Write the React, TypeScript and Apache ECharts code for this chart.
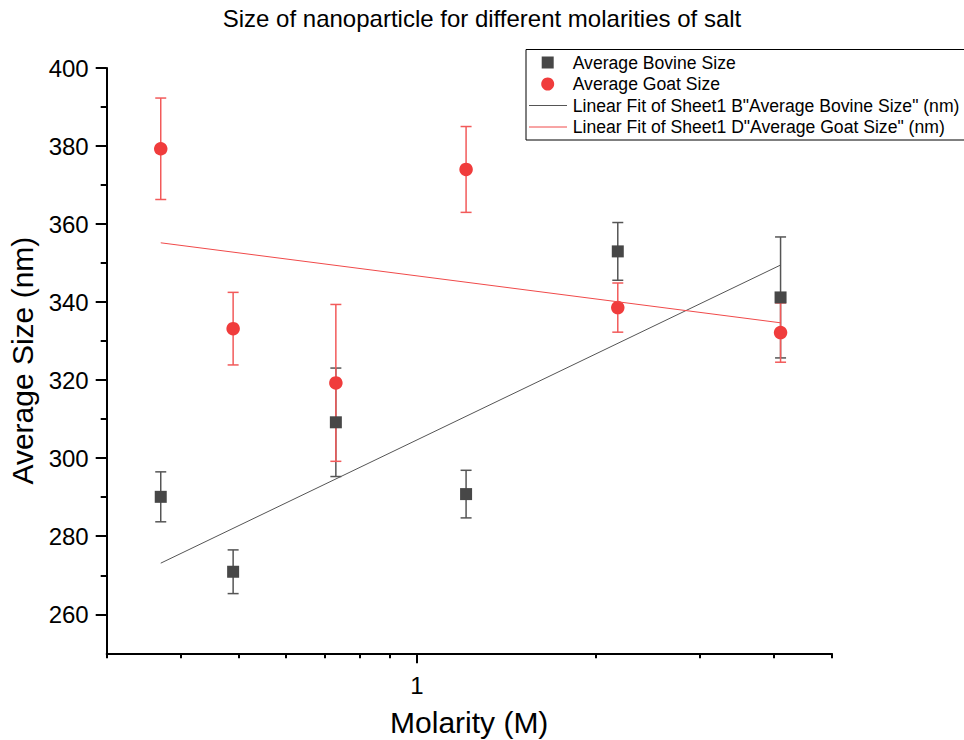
import React, { useEffect, useRef } from "react";
import * as echarts from "echarts";

// ---- data ----
const molarity = [0.37, 0.49, 0.73, 1.21, 2.18, 4.1];
const bovineSize = [290.1, 270.9, 309.2, 290.8, 353.0, 341.2];
const bovineErr = [6.4, 5.6, 13.9, 6.1, 7.4, 15.5];
const goatSize = [379.3, 333.2, 319.3, 374.0, 338.6, 332.2];
const goatErr = [13.0, 9.3, 20.1, 11.0, 6.3, 7.6];

// linear-fit end points (as drawn in the reference)
const fitMolarity = [0.37, 4.1];
const bovineFit = [273.1, 349.5];
const goatFit = [355.2, 334.7];

// axis ticks
const xMajorTicks = [1];
const xMinorTicks = [0.3, 0.4, 0.5, 0.6, 0.7, 0.8, 0.9, 2, 3, 4, 5];
const yMajorTicks = [260, 280, 300, 320, 340, 360, 380, 400];
const yMinorTicks = [270, 290, 310, 330, 350, 370, 390];

const seriesNames = [
  "Average Bovine Size",
  "Average Goat Size",
  'Linear Fit of Sheet1 B"Average Bovine Size" (nm)',
  'Linear Fit of Sheet1 D"Average Goat Size" (nm)',
];

const FONT = "'Liberation Sans', Arial, Helvetica, sans-serif";
const BOVINE = "#474747";
const BOVINE_ERR = "#555555";
const GOAT = "#f03c3c";
const GOAT_ERR = "#f25a5a";

function errorSeries(sizes: number[], errs: number[], color: string) {
  return {
    type: "custom",
    xAxisIndex: 0,
    yAxisIndex: 0,
    silent: true,
    clip: false,
    encode: { x: 0, y: [1, 2] },
    data: molarity.map((m, i) => [m, sizes[i] - errs[i], sizes[i] + errs[i]]),
    renderItem: (params: any, api: any) => {
      const x = api.value(0);
      const top = api.coord([x, api.value(2)]);
      const bot = api.coord([x, api.value(1)]);
      const hw = 5.5;
      const st = { stroke: color, lineWidth: 1.5 };
      return {
        type: "group",
        children: [
          { type: "line", shape: { x1: top[0], y1: top[1], x2: bot[0], y2: bot[1] }, style: st },
          { type: "line", shape: { x1: top[0] - hw, y1: top[1], x2: top[0] + hw, y2: top[1] }, style: st },
          { type: "line", shape: { x1: bot[0] - hw, y1: bot[1], x2: bot[0] + hw, y2: bot[1] }, style: st },
        ],
      };
    },
  };
}

export default function App() {
  const ref = useRef<HTMLDivElement>(null);

  useEffect(() => {
    if (!ref.current) return;
    const chart = echarts.init(ref.current, undefined, { renderer: "svg" });

    const legendX = 526;
    const rowY = [62.5, 84, 105.5, 127];
    const textX = 572.7;
    const legendText = (i: number) => ({
      type: "text",
      x: textX,
      y: rowY[i],
      style: {
        text: seriesNames[i],
        fill: "#000",
        font: `17.6px ${FONT}`,
        textVerticalAlign: "middle",
        verticalAlign: "middle",
      },
      z: 102,
    });

    const option: any = {
      animation: false,
      backgroundColor: "#ffffff",
      textStyle: { fontFamily: FONT },
      title: {
        text: "Size of nanoparticle for different molarities of salt",
        left: "center",
        top: 6,
        padding: 0,
        textStyle: { fontSize: 24, fontWeight: "normal", color: "#000", fontFamily: FONT },
      },
      grid: {
        left: 106.7,
        right: 964 - 831.7,
        top: 68,
        bottom: 740 - 653.3,
        containLabel: false,
        outerBoundsMode: "none",
      },
      xAxis: [
        {
          type: "log",
          logBase: 10,
          min: 0.3,
          max: 5,
          position: "bottom",
          axisLine: { show: true, onZero: false, lineStyle: { color: "#000", width: 2 } },
          axisTick: { show: true, length: 10, customValues: xMajorTicks, lineStyle: { color: "#000", width: 2 } },
          axisLabel: {
            show: true,
            customValues: xMajorTicks,
            fontSize: 24,
            color: "#000",
            margin: 20,
            fontFamily: FONT,
          },
          splitLine: { show: false },
          minorTick: { show: false },
          name: "Molarity (M)",
          nameLocation: "middle",
          nameGap: 54,
          nameTextStyle: { fontSize: 30, color: "#000", fontFamily: FONT },
        },
        {
          type: "log",
          logBase: 10,
          min: 0.3,
          max: 5,
          position: "bottom",
          axisLine: { show: false, onZero: false },
          axisTick: { show: true, length: 5, customValues: xMinorTicks, lineStyle: { color: "#000", width: 2 } },
          axisLabel: { show: false },
          splitLine: { show: false },
        },
      ],
      yAxis: [
        {
          type: "value",
          min: 250,
          max: 400,
          position: "left",
          axisLine: { show: true, onZero: false, lineStyle: { color: "#000", width: 2 } },
          axisTick: { show: true, length: 11, customValues: yMajorTicks, lineStyle: { color: "#000", width: 2 } },
          axisLabel: {
            show: true,
            customValues: yMajorTicks,
            fontSize: 24,
            color: "#000",
            margin: 18,
            fontFamily: FONT,
          },
          splitLine: { show: false },
          name: "Average Size (nm)",
          nameLocation: "middle",
          nameGap: 62,
          nameTextStyle: { fontSize: 30, color: "#000", fontFamily: FONT },
        },
        {
          type: "value",
          min: 250,
          max: 400,
          position: "left",
          axisLine: { show: false, onZero: false },
          axisTick: { show: true, length: 6, customValues: yMinorTicks, lineStyle: { color: "#000", width: 2 } },
          axisLabel: { show: false },
          splitLine: { show: false },
        },
      ],
      series: [
        errorSeries(bovineSize, bovineErr, BOVINE_ERR),
        {
          name: seriesNames[0],
          type: "scatter",
          xAxisIndex: 0,
          yAxisIndex: 0,
          symbol: "rect",
          symbolSize: 12,
          itemStyle: { color: BOVINE, opacity: 1 },
          data: molarity.map((m, i) => [m, bovineSize[i]]),
        },
        errorSeries(goatSize, goatErr, GOAT_ERR),
        {
          name: seriesNames[1],
          type: "scatter",
          xAxisIndex: 0,
          yAxisIndex: 0,
          symbol: "circle",
          symbolSize: 13.5,
          itemStyle: { color: GOAT, opacity: 1 },
          data: molarity.map((m, i) => [m, goatSize[i]]),
        },
        {
          name: seriesNames[2],
          type: "line",
          xAxisIndex: 0,
          yAxisIndex: 0,
          showSymbol: false,
          symbol: "none",
          lineStyle: { color: "#555555", width: 1 },
          data: fitMolarity.map((m, i) => [m, bovineFit[i]]),
        },
        {
          name: seriesNames[3],
          type: "line",
          xAxisIndex: 0,
          yAxisIndex: 0,
          showSymbol: false,
          symbol: "none",
          lineStyle: { color: "#f04a4a", width: 1 },
          data: fitMolarity.map((m, i) => [m, goatFit[i]]),
        },
      ],
      graphic: [
        {
          type: "rect",
          shape: { x: legendX, y: 49.5, width: 460, height: 90.5 },
          style: { fill: "#fff", stroke: "#000", lineWidth: 1 },
          z: 100,
        },
        {
          type: "rect",
          shape: { x: 541.7, y: rowY[0] - 6, width: 12, height: 12 },
          style: { fill: BOVINE },
          z: 101,
        },
        {
          type: "circle",
          shape: { cx: 547.7, cy: rowY[1], r: 6.5 },
          style: { fill: GOAT },
          z: 101,
        },
        {
          type: "line",
          shape: { x1: 529, y1: rowY[2], x2: 567, y2: rowY[2] },
          style: { stroke: "#555555", lineWidth: 1 },
          z: 101,
        },
        {
          type: "line",
          shape: { x1: 529, y1: rowY[3], x2: 567, y2: rowY[3] },
          style: { stroke: "#f04a4a", lineWidth: 1 },
          z: 101,
        },
        legendText(0),
        legendText(1),
        legendText(2),
        legendText(3),
      ],
    };

    chart.setOption(option);
    return () => chart.dispose();
  }, []);

  return (
    <div
      ref={ref}
      style={{ position: "fixed", left: 0, top: 0, width: 964, height: 740, background: "#fff" }}
    />
  );
}
